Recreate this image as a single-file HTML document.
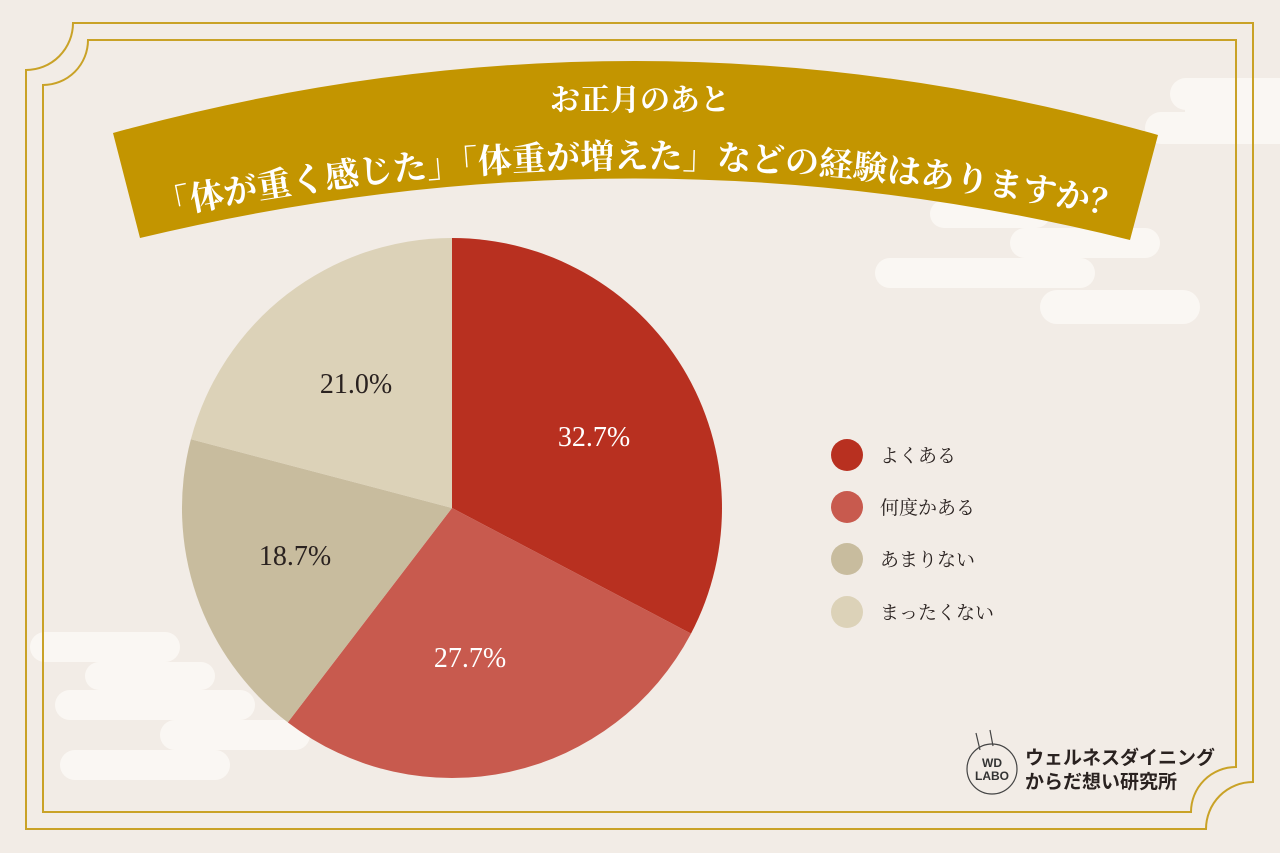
<!DOCTYPE html>
<html><head><meta charset="utf-8"><style>
html,body{margin:0;padding:0;}
body{width:1280px;height:853px;background:#f2ece6;overflow:hidden;position:relative;font-family:"Liberation Serif","Noto Serif CJK SC",serif;}
</style></head><body>
<svg width="1280" height="853" viewBox="0 0 1280 853" style="position:absolute;left:0;top:0">
<g fill="#faf7f3">
 <rect x="1170" y="78" width="140" height="32" rx="16"/>
 <rect x="1145" y="112" width="160" height="32" rx="16"/>
 <rect x="1185" y="98" width="100" height="30"/>
 <rect x="930" y="200" width="120" height="28" rx="14"/>
 <rect x="1010" y="228" width="150" height="30" rx="15"/>
 <rect x="875" y="258" width="220" height="30" rx="15"/>
 <rect x="1040" y="290" width="160" height="34" rx="17"/>
 <rect x="30" y="632" width="150" height="30" rx="15"/>
 <rect x="85" y="662" width="130" height="28" rx="14"/>
 <rect x="55" y="690" width="200" height="30" rx="15"/>
 <rect x="160" y="720" width="150" height="30" rx="15"/>
 <rect x="60" y="750" width="170" height="30" rx="15"/>
</g>
<g fill="none" stroke="#c9a227" stroke-width="2">
 <path d="M73 23 H1253 V782 A47 47 0 0 0 1206 829 H26 V70 A47 47 0 0 0 73 23 Z"/>
 <path d="M88 40 H1236 V767 A45 45 0 0 0 1191 812 H43 V85 A45 45 0 0 0 88 40 Z"/>
</g>
<path d="M113 133 Q640 -12 1158 135 L1130 240 Q640 118 140 238 Z" fill="#c39500"/>
<text x="640" y="110" text-anchor="middle" fill="#fff" font-size="30" font-weight="bold" font-family="'Liberation Serif','Noto Serif CJK SC',serif">お正月のあと</text>
<path id="arc" d="M130 224 Q640 112 1150 224" fill="none"/>
<text fill="#fff" font-size="34" font-weight="bold" font-family="'Liberation Serif','Noto Serif CJK SC',serif"><textPath href="#arc" startOffset="50%" text-anchor="middle">「体が重く感じた」「体重が増えた」などの経験はありますか？</textPath></text>
<path d="M452 508 L452 238 A270 270 0 0 1 691 633.6 Z" fill="#b83020"/>
<path d="M452 508 L691 633.6 A270 270 0 0 1 287.8 722.4 Z" fill="#c85a4e"/>
<path d="M452 508 L287.8 722.4 A270 270 0 0 1 190.9 439.2 Z" fill="#c8bc9e"/>
<path d="M452 508 L190.9 439.2 A270 270 0 0 1 452 238 Z" fill="#dcd2b8"/>
<g font-size="28" font-family="'Liberation Serif',serif" text-anchor="middle">
 <text x="594" y="446" fill="#fff">32.7%</text>
 <text x="470" y="667" fill="#fff">27.7%</text>
 <text x="295" y="565" fill="#2a2220">18.7%</text>
 <text x="356" y="393" fill="#2a2220">21.0%</text>
</g>
<g font-size="19" fill="#2a2220" font-family="'Liberation Serif','Noto Serif CJK SC',serif">
 <circle cx="847" cy="455" r="16" fill="#b83020"/><text x="880" y="462">よくある</text>
 <circle cx="847" cy="507" r="16" fill="#c85a4e"/><text x="880" y="514">何度かある</text>
 <circle cx="847" cy="559" r="16" fill="#c8bc9e"/><text x="880" y="566">あまりない</text>
 <circle cx="847" cy="612" r="16" fill="#dcd2b8"/><text x="880" y="619">まったくない</text>
</g>
<g fill="none" stroke="#444" stroke-width="1.2">
 <circle cx="992" cy="769" r="25"/>
 <path d="M976 733 L980 750 M990 730 L993 746"/>
</g>
<g font-family="'Liberation Sans',sans-serif" font-weight="bold" font-size="12" fill="#333" text-anchor="middle">
 <text x="992" y="767">WD</text><text x="992" y="780">LABO</text>
</g>
<g font-family="'Liberation Sans','Noto Sans CJK JP',sans-serif" font-weight="bold" font-size="19" fill="#2a2220">
 <text x="1025" y="764">ウェルネスダイニング</text>
 <text x="1025" y="788">からだ想い研究所</text>
</g>
</svg>
</body></html>
